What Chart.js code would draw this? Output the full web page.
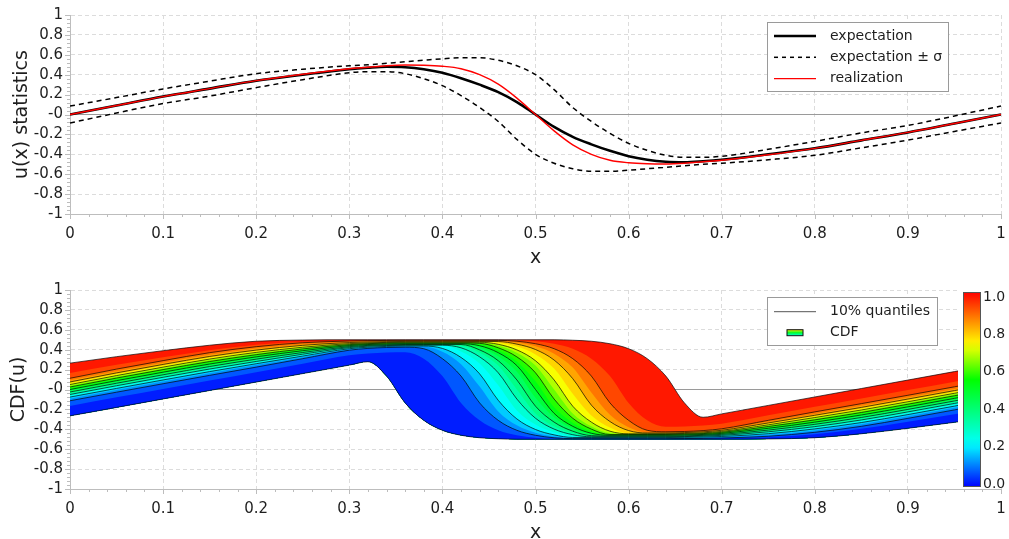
<!DOCTYPE html>
<html>
<head>
<meta charset="utf-8">
<script src="https://cdn.jsdelivr.net/npm/chart.js@4.4.1/dist/chart.umd.min.js"></script>
<style>
  html, body { margin: 0; padding: 0; background: #fff; overflow: hidden; }
  canvas { display: block; }
</style>
</head>
<body>
<canvas id="statsChart" width="1009" height="270"></canvas>
<canvas id="cdfChart" width="1009" height="280"></canvas>
<script>
// --- Data ---
// x positions shared by every curve (denser around the shock)
const xs = [0, 0.05, 0.1, 0.15, 0.2, 0.25, 0.3, 0.32, 0.34, 0.36, 0.38, 0.4, 0.42, 0.44, 0.46, 0.48,
  0.5, 0.52, 0.54, 0.56, 0.58, 0.6, 0.62, 0.64, 0.66, 0.68, 0.7, 0.75, 0.8, 0.85, 0.9, 0.95, 1];

// top panel: u(x) statistics
const expectation = [0, .09, .18, .26, .34, .40, .455, .47, .48, .475, .455, .42, .365, .30, .225, .125,
  0, -.125, -.225, -.30, -.365, -.42, -.455, -.475, -.48, -.47, -.455, -.40, -.34, -.26, -.18, -.09, 0];
const sigmaUpper = [.085, .17, .257, .335, .41, .455, .49, .50, .515, .53, .545, .56, .57, .57, .545, .49,
  .40, .25, .07, -.07, -.19, -.29, -.36, -.41, -.43, -.43, -.42, -.35, -.27, -.185, -.11, -.015, .085];
const sigmaLower = [-.085, .015, .11, .185, .27, .35, .42, .43, .43, .41, .36, .29, .19, .07, -.07, -.25,
  -.40, -.49, -.545, -.57, -.57, -.56, -.545, -.53, -.515, -.50, -.49, -.455, -.41, -.335, -.257, -.17, -.085];
const realization = [0, .09, .18, .26, .34, .405, .46, .475, .49, .497, .495, .485, .46, .40, .305, .165,
  0, -.165, -.305, -.40, -.46, -.485, -.495, -.497, -.49, -.475, -.46, -.405, -.34, -.26, -.18, -.09, 0];

// bottom panel: quantile curves of u, every 5 %
const q00 = [-.265, -.18, -.095, -.01, .075, .16, .245, .279, .135, -.135, -.31, -.41, -.46, -.485, -.495, -.5,
  -.5, -.5, -.5, -.5, -.5, -.5, -.5, -.5, -.5, -.5, -.5, -.497, -.485, -.445, -.39, -.33, -.265];
const q05 = [-.165, -.079, .006, .09, .174, .259, .344, .362, .372, .375, .31, .135, -.135, -.31, -.41, -.46,
  -.485, -.495, -.497, -.497, -.497, -.497, -.497, -.497, -.496, -.494, -.491, -.479, -.449, -.395, -.324, -.248, -.165];
const q10 = [-.113, -.027, .058, .142, .225, .31, .395, .413, .422, .425, .41, .31, .135, -.135, -.31, -.41,
  -.46, -.485, -.494, -.494, -.494, -.494, -.494, -.494, -.493, -.491, -.487, -.47, -.43, -.37, -.29, -.205, -.113];
const q15 = [-.092, -.005, .08, .164, .245, .325, .404, .42, .428, .432, .432, .38, .255, .03, -.22, -.36,
  -.435, -.472, -.488, -.488, -.488, -.488, -.488, -.488, -.487, -.484, -.478, -.455, -.411, -.348, -.268, -.183, -.092];
const q20 = [-.076, .011, .096, .18, .259, .336, .41, .425, .433, .437, .437, .413, .322, .157, -.109, -.296,
  -.402, -.456, -.482, -.483, -.483, -.483, -.483, -.483, -.481, -.478, -.472, -.444, -.396, -.332, -.252, -.167, -.076];
const q25 = [-.062, .025, .11, .193, .271, .346, .416, .43, .437, .441, .441, .441, .382, .261, .042, -.21,
  -.352, -.431, -.471, -.479, -.479, -.479, -.479, -.479, -.477, -.473, -.466, -.434, -.384, -.319, -.238, -.153, -.062];
const q30 = [-.05, .038, .123, .206, .282, .355, .421, .435, .442, .445, .445, .445, .419, .328, .168, -.096,
  -.289, -.398, -.454, -.475, -.475, -.475, -.475, -.475, -.473, -.469, -.461, -.425, -.373, -.306, -.225, -.14, -.05];
const q35 = [-.037, .051, .136, .218, .294, .364, .426, .438, .445, .448, .448, .448, .44, .37, .24, 0,
  -.24, -.37, -.44, -.472, -.472, -.472, -.472, -.472, -.47, -.465, -.456, -.416, -.361, -.294, -.212, -.127, -.037];
const q40 = [-.025, .063, .148, .231, .305, .372, .431, .443, .449, .452, .452, .452, .452, .398, .289, .096,
  -.168, -.328, -.419, -.464, -.468, -.468, -.468, -.468, -.466, -.461, -.451, -.408, -.35, -.281, -.2, -.115, -.025];
const q45 = [-.012, .076, .161, .244, .316, .381, .436, .447, .453, .456, .456, .456, .456, .422, .334, .179,
  -.083, -.282, -.394, -.452, -.464, -.464, -.464, -.464, -.461, -.456, -.446, -.399, -.339, -.269, -.187, -.102, -.012];
const q50 = [0, .089, .174, .256, .328, .39, .441, .452, .457, .46, .46, .46, .46, .44, .37, .24,
  0, -.24, -.37, -.44, -.46, -.46, -.46, -.46, -.457, -.452, -.441, -.39, -.328, -.256, -.174, -.089, 0];
const q55 = [.012, .102, .187, .269, .339, .399, .446, .456, .461, .464, .464, .464, .464, .452, .394, .282,
  .083, -.179, -.334, -.422, -.456, -.456, -.456, -.456, -.453, -.447, -.436, -.381, -.316, -.244, -.161, -.076, .012];
const q60 = [.025, .115, .2, .281, .35, .408, .451, .461, .466, .468, .468, .468, .468, .464, .419, .328,
  .168, -.096, -.289, -.398, -.452, -.452, -.452, -.452, -.449, -.443, -.431, -.372, -.305, -.231, -.148, -.063, .025];
const q65 = [.037, .127, .212, .294, .361, .416, .456, .465, .47, .472, .472, .472, .472, .472, .44, .37,
  .24, 0, -.24, -.37, -.44, -.448, -.448, -.448, -.445, -.438, -.426, -.364, -.294, -.218, -.136, -.051, .037];
const q70 = [.05, .14, .225, .306, .373, .425, .461, .469, .473, .475, .475, .475, .475, .475, .454, .398,
  .289, .096, -.168, -.328, -.419, -.445, -.445, -.445, -.442, -.435, -.421, -.355, -.282, -.206, -.123, -.038, .05];
const q75 = [.062, .153, .238, .319, .384, .434, .466, .473, .477, .479, .479, .479, .479, .479, .471, .431,
  .352, .21, -.042, -.261, -.382, -.441, -.441, -.441, -.437, -.43, -.416, -.346, -.271, -.193, -.11, -.025, .062];
const q80 = [.076, .167, .252, .332, .396, .444, .472, .478, .481, .483, .483, .483, .483, .483, .482, .456,
  .402, .296, .109, -.157, -.322, -.413, -.437, -.437, -.433, -.425, -.41, -.336, -.259, -.18, -.096, -.011, .076];
const q85 = [.092, .183, .268, .348, .411, .455, .478, .484, .487, .488, .488, .488, .488, .488, .488, .472,
  .435, .36, .22, -.03, -.255, -.38, -.432, -.432, -.428, -.42, -.404, -.325, -.245, -.164, -.08, .005, .092];
const q90 = [.113, .205, .29, .37, .43, .47, .487, .491, .493, .494, .494, .494, .494, .494, .494, .485,
  .46, .41, .31, .135, -.135, -.31, -.41, -.425, -.422, -.413, -.395, -.31, -.225, -.142, -.058, .027, .113];
const q95 = [.165, .248, .324, .395, .449, .479, .491, .494, .496, .497, .497, .497, .497, .497, .497, .495,
  .485, .46, .41, .31, .135, -.135, -.31, -.375, -.372, -.362, -.344, -.259, -.174, -.09, -.006, .079, .165];
const q100 = [.265, .33, .39, .445, .485, .497, .5, .5, .5, .5, .5, .5, .5, .5, .5, .5,
  .5, .5, .495, .485, .46, .41, .31, .135, -.135, -.279, -.245, -.16, -.075, .01, .095, .18, .265];

const cdfLevels = [0, 0.05, 0.1, 0.15, 0.2, 0.25, 0.3, 0.35, 0.4, 0.45, 0.5,
  0.55, 0.6, 0.65, 0.7, 0.75, 0.8, 0.85, 0.9, 0.95, 1];
const quantileCurves = [q00, q05, q10, q15, q20, q25, q30, q35, q40, q45, q50,
  q55, q60, q65, q70, q75, q80, q85, q90, q95, q100];
const colorbarTicks = [0, 0.2, 0.4, 0.6, 0.8, 1.0];

// --- Styles ---
const textColor = '#1e1e1e';
const gridColor = '#dcdcdc';
const axisColor = '#bdbdbd';
const FONT = '"DejaVu Sans", Verdana, sans-serif';
Chart.defaults.font.family = FONT;
Chart.defaults.color = textColor;

// blue -> cyan -> green -> yellow -> red
const cmapStops = [[0, [0, 0, 255]], [0.22, [0, 255, 255]], [0.55, [0, 255, 0]], [0.73, [255, 255, 0]], [1, [255, 0, 0]]];
function cmap(v) {
  for (let i = 1; i < cmapStops.length; i++) {
    const [v0, c0] = cmapStops[i - 1];
    const [v1, c1] = cmapStops[i];
    if (v <= v1) {
      const t = (v - v0) / (v1 - v0);
      const c = c0.map((a, k) => Math.round(a + (c1[k] - a) * t));
      return `rgb(${c.join(',')})`;
    }
  }
  return 'rgb(255,0,0)';
}

const toPoints = vals => vals.map((y, i) => ({ x: xs[i], y }));
const fmt = v => String(Math.round(v * 10) / 10);

// minor / major tick marks outside the plot
const tickMarks = {
  id: 'tickMarks',
  afterDraw(chart) {
    const { ctx, chartArea: a, scales: { x, y } } = chart;
    ctx.save();
    ctx.strokeStyle = axisColor;
    ctx.lineWidth = 1;
    ctx.beginPath();
    for (let k = 0; k <= 50; k++) {
      const px = Math.round(x.getPixelForValue(k / 50)) + 0.5;
      const len = k % 5 === 0 ? 5 : 3;
      ctx.moveTo(px, a.bottom);
      ctx.lineTo(px, a.bottom + len);
    }
    for (let k = 0; k <= 50; k++) {
      const py = Math.round(y.getPixelForValue(-1 + k * 0.04)) + 0.5;
      const len = k % 5 === 0 ? 5 : 3;
      ctx.moveTo(a.left - len, py);
      ctx.lineTo(a.left, py);
    }
    ctx.stroke();
    ctx.restore();
  }
};

function legendBox(ctx, left, top, w, h) {
  ctx.fillStyle = '#fff';
  ctx.fillRect(left, top, w, h);
  ctx.strokeStyle = '#9a9a9a';
  ctx.lineWidth = 1;
  ctx.strokeRect(left + 0.5, top + 0.5, w, h);
}

const statsLegend = {
  id: 'statsLegend',
  afterDatasetsDraw(chart) {
    const { ctx, chartArea: a } = chart;
    const ds = chart.data.datasets;
    const left = a.right - 234, top = a.top + 7;
    ctx.save();
    legendBox(ctx, left, top, 181, 69);
    [ds[1], ds[2], ds[0]].forEach((d, i) => {
      const cy = top + 14 + i * 21.3;
      ctx.beginPath();
      ctx.setLineDash(d.borderDash ? [4, 4] : []);
      ctx.strokeStyle = d.borderColor;
      ctx.lineWidth = d.borderWidth;
      ctx.moveTo(left + 7, cy);
      ctx.lineTo(left + 49, cy);
      ctx.stroke();
      ctx.setLineDash([]);
      ctx.fillStyle = textColor;
      ctx.font = '14px ' + FONT;
      ctx.textBaseline = 'middle';
      ctx.fillText(d.label, left + 63, cy);
    });
    ctx.restore();
  }
};

const cdfDecor = {
  id: 'cdfDecor',
  afterDatasetsDraw(chart) {
    const { ctx, chartArea: a } = chart;
    ctx.save();
    // colorbar sits over the right end of the plot
    ctx.fillStyle = '#fff';
    ctx.fillRect(a.right - 43, a.top - 2, 60, a.bottom - a.top + 1);
    const bx = a.right - 38, bw = 18, bTop = a.top + 2, bBot = a.bottom - 2;
    const grad = ctx.createLinearGradient(0, bBot, 0, bTop);
    for (let k = 0; k <= 20; k++) grad.addColorStop(k / 20, cmap(k / 20));
    ctx.fillStyle = grad;
    ctx.fillRect(bx, bTop, bw, bBot - bTop);
    ctx.strokeStyle = '#555';
    ctx.lineWidth = 1;
    ctx.strokeRect(bx + 0.5, bTop + 0.5, bw - 1, bBot - bTop - 1);
    ctx.fillStyle = textColor;
    ctx.font = '14px ' + FONT;
    ctx.textBaseline = 'middle';
    const lTop = a.top + 7, lBot = a.bottom - 5;
    colorbarTicks.forEach(v => ctx.fillText(v.toFixed(1), a.right - 18, lBot - v * (lBot - lTop)));

    // legend
    const left = a.right - 234, top = a.top + 7;
    legendBox(ctx, left, top, 170, 48);
    const r1 = top + 14.7, r2 = top + 35.7;
    ctx.beginPath();
    ctx.strokeStyle = '#555';
    ctx.lineWidth = 1;
    ctx.moveTo(left + 7, r1);
    ctx.lineTo(left + 49, r1);
    ctx.stroke();
    const ig = ctx.createLinearGradient(0, r2 - 3, 0, r2 + 3);
    ig.addColorStop(0, cmap(0.75));
    ig.addColorStop(0.5, cmap(0.5));
    ig.addColorStop(1, cmap(0.25));
    ctx.fillStyle = ig;
    ctx.fillRect(left + 20, r2 - 3, 16, 6);
    ctx.strokeStyle = '#111';
    ctx.strokeRect(left + 20, r2 - 3, 16, 6);
    ctx.fillStyle = textColor;
    ctx.fillText('10% quantiles', left + 63, r1);
    ctx.fillText('CDF', left + 63, r2);
    ctx.restore();
  }
};

function buildOptions(yTitle, yTitlePad, topPad, xAxisHeight, xTitlePad) {
  return {
    responsive: false,
    animation: false,
    events: [],
    devicePixelRatio: 1,
    layout: { padding: { top: topPad, right: 8, left: 0, bottom: 0 } },
    elements: { point: { radius: 0 }, line: { cubicInterpolationMode: 'monotone', fill: false } },
    plugins: {
      legend: { display: false },
      tooltip: { enabled: false },
      filler: { drawTime: 'beforeDatasetsDraw' }
    },
    scales: {
      x: {
        type: 'linear', min: 0, max: 1,
        ticks: { stepSize: 0.1, autoSkip: false, padding: 11, maxRotation: 0, color: textColor, font: { size: 15 }, callback: fmt },
        grid: { color: gridColor, drawTicks: false },
        border: { color: axisColor, dash: [4, 3] },
        title: { display: true, text: 'x', color: textColor, font: { size: 19 }, padding: { top: 0, bottom: xTitlePad } },
        afterFit: s => { s.height = xAxisHeight; s.paddingLeft = 0; s.paddingRight = 0; }
      },
      y: {
        type: 'linear', min: -1, max: 1,
        ticks: { stepSize: 0.2, autoSkip: false, padding: 7, color: textColor, font: { size: 15 },
          callback: v => Math.abs(v) < 1e-9 ? '-0' : fmt(v) },
        grid: { color: gridColor, drawTicks: false },
        border: { color: axisColor, dash: [4, 3] },
        title: { display: true, text: yTitle, color: textColor, font: { size: 19 }, padding: { top: yTitlePad, bottom: 0 } },
        afterFit: s => { s.width = 70; s.paddingTop = 0; s.paddingBottom = 0; }
      },
      // solid reference line at u = 0
      zero: {
        type: 'linear', position: 'right', min: -1, max: 1,
        ticks: { display: false },
        grid: { color: '#9a9a9a', drawTicks: false },
        border: { display: false },
        afterBuildTicks: s => { s.ticks = [{ value: 0 }]; },
        afterFit: s => { s.width = 0; s.paddingTop = 0; s.paddingBottom = 0; }
      }
    }
  };
}

// --- Top chart ---
new Chart(document.getElementById('statsChart'), {
  type: 'line',
  data: {
    datasets: [
      { label: 'realization', data: toPoints(realization), borderColor: '#ff0000', borderWidth: 1.4, yAxisID: 'y' },
      { label: 'expectation', data: toPoints(expectation), borderColor: '#000', borderWidth: 2.6, yAxisID: 'y' },
      { label: 'expectation \u00b1 \u03c3', data: toPoints(sigmaUpper), borderColor: '#000', borderWidth: 1.5, borderDash: [5, 4], yAxisID: 'y' },
      { label: 'expectation - \u03c3', data: toPoints(sigmaLower), borderColor: '#000', borderWidth: 1.5, borderDash: [5, 4], yAxisID: 'y' }
    ]
  },
  options: buildOptions('u(x) statistics', 11, 15, 56, 1),
  plugins: [tickMarks, statsLegend]
});

// --- Bottom chart: bands between quantiles, filled down to the minimum ---
const cdfDatasets = quantileCurves.map((vals, k) => {
  const p = cdfLevels[k];
  const tenth = Math.round(p * 100) % 10 === 0;
  return {
    label: 'q' + Math.round(p * 100),
    data: toPoints(vals),
    yAxisID: 'y',
    borderColor: 'rgba(0,0,0,0.85)',
    borderWidth: tenth ? 0.8 : 0,
    backgroundColor: k > 0 ? cmap(p - 0.025) : 'transparent',
    fill: k > 0 ? 0 : false
  };
});

new Chart(document.getElementById('cdfChart'), {
  type: 'line',
  data: { datasets: cdfDatasets },
  options: buildOptions('CDF(u)', 8, 20, 61, 6),
  plugins: [tickMarks, cdfDecor]
});
</script>
</body>
</html>
